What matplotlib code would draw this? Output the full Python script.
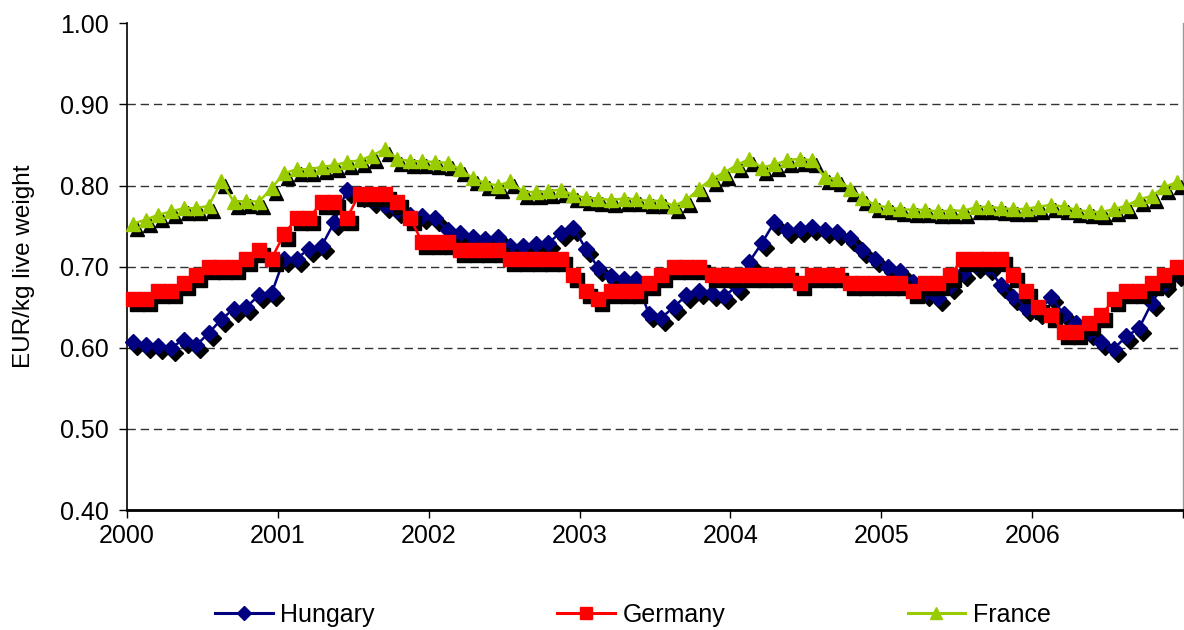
import matplotlib
matplotlib.use("Agg")
import matplotlib.pyplot as plt
import numpy as np
from matplotlib.transforms import offset_copy
from matplotlib.lines import Line2D

plt.rcParams['font.family'] = ['Liberation Sans', 'DejaVu Sans']

# monthly observations, Jan 2000 .. Dec 2006
years = [2000, 2001, 2002, 2003, 2004, 2005, 2006]
year_labels = ["2000", "2001", "2002", "2003", "2004", "2005", "2006"]

hungary = [0.607, 0.603, 0.602, 0.600, 0.610, 0.603, 0.618, 0.635, 0.648, 0.650, 0.665, 0.667,
           0.710, 0.710, 0.722, 0.726, 0.755, 0.795, 0.790, 0.782, 0.776, 0.770, 0.764, 0.762,
           0.760, 0.745, 0.741, 0.736, 0.734, 0.736, 0.725, 0.725, 0.728, 0.729, 0.742, 0.748,
           0.722, 0.698, 0.688, 0.685, 0.685, 0.642, 0.637, 0.650, 0.665, 0.670, 0.668, 0.664,
           0.675, 0.706, 0.729, 0.755, 0.745, 0.747, 0.749, 0.745, 0.743, 0.735, 0.720, 0.710,
           0.700, 0.695, 0.681, 0.667, 0.661, 0.676, 0.692, 0.702, 0.700, 0.677, 0.663, 0.649,
           0.645, 0.662, 0.642, 0.630, 0.620, 0.607, 0.599, 0.614, 0.624, 0.655, 0.679, 0.692]

germany = [0.66, 0.66, 0.67, 0.67, 0.68, 0.69, 0.70, 0.70, 0.70, 0.71, 0.72, 0.71,
           0.74, 0.76, 0.76, 0.78, 0.78, 0.76, 0.79, 0.79, 0.79, 0.78, 0.76, 0.73,
           0.73, 0.73, 0.72, 0.72, 0.72, 0.72, 0.71, 0.71, 0.71, 0.71, 0.71, 0.69,
           0.67, 0.66, 0.67, 0.67, 0.67, 0.68, 0.69, 0.70, 0.70, 0.70, 0.69, 0.69,
           0.69, 0.69, 0.69, 0.69, 0.69, 0.68, 0.69, 0.69, 0.69, 0.68, 0.68, 0.68,
           0.68, 0.68, 0.67, 0.68, 0.68, 0.69, 0.71, 0.71, 0.71, 0.71, 0.69, 0.67,
           0.65, 0.64, 0.62, 0.62, 0.63, 0.64, 0.66, 0.67, 0.67, 0.68, 0.69, 0.70]

france = [0.753, 0.758, 0.764, 0.768, 0.772, 0.772, 0.775, 0.805, 0.780, 0.781, 0.780, 0.797,
          0.815, 0.820, 0.820, 0.823, 0.825, 0.829, 0.831, 0.837, 0.845, 0.833, 0.830, 0.830,
          0.829, 0.828, 0.820, 0.809, 0.803, 0.800, 0.805, 0.792, 0.792, 0.793, 0.795, 0.788,
          0.785, 0.784, 0.782, 0.784, 0.783, 0.781, 0.781, 0.775, 0.782, 0.796, 0.808, 0.816,
          0.825, 0.833, 0.822, 0.826, 0.831, 0.833, 0.831, 0.810, 0.808, 0.796, 0.785, 0.776,
          0.773, 0.771, 0.770, 0.770, 0.768, 0.769, 0.769, 0.773, 0.774, 0.772, 0.771, 0.771,
          0.774, 0.776, 0.774, 0.770, 0.768, 0.767, 0.771, 0.775, 0.783, 0.787, 0.798, 0.804]

series_names = ["Hungary", "Germany", "France"]
series_values = [hungary, germany, france]
colors = ["#000080", "#FF0000", "#99CC00"]
markers = ["D", "s", "^"]
msizes = [8.0, 10.5, 9.5]

months = np.arange(len(hungary))
x = years[0] + (months + 0.5) / 12.0

W, H = 1184, 630
fig = plt.figure(figsize=(W / 100, H / 100), dpi=100)
ax = fig.add_axes([127 / W, (H - 510) / H, (1183 - 127) / W, (510 - 23.3) / H])

shadow_tr = offset_copy(ax.transData, fig=fig, x=4, y=-5, units='dots')

handles = []
for k, (name, vals, c, m, ms) in enumerate(zip(series_names, series_values, colors, markers, msizes)):
    ax.plot(x, vals, linestyle='none', marker=m, markersize=ms, color='black',
            markeredgecolor='black', transform=shadow_tr, zorder=3 + 2 * k, clip_on=False)
    ax.plot(x, vals, linestyle='-', linewidth=1.8, marker=m, markersize=ms, color=c,
            markeredgecolor=c, zorder=4 + 2 * k, clip_on=False)
    handles.append(Line2D([0], [0], color=c, linewidth=2.2, marker=m,
                          markersize=ms * 0.85, markeredgecolor=c, label=name))

for gy in [0.5, 0.6, 0.7, 0.8, 0.9]:
    ax.axhline(gy, color='#333333', linewidth=1.0, dashes=(6, 3.5), zorder=1)

ax.set_xlim(2000, 2007)
ax.set_ylim(0.40, 1.00)
ax.set_xticks(years + [2007])
ax.set_xticklabels(year_labels + [""])
yt = [0.4, 0.5, 0.6, 0.7, 0.8, 0.9, 1.0]
ax.set_yticks(yt)
ax.set_yticklabels(["%.2f" % v for v in yt])
ax.tick_params(axis='both', direction='out', length=6, width=1.0, labelsize=18, colors='black')
ax.tick_params(axis='x', pad=4)
ax.tick_params(axis='y', pad=7)

ax.spines['top'].set_visible(False)
ax.spines['right'].set_color('#999999')
ax.spines['right'].set_linewidth(1.0)
ax.spines['left'].set_linewidth(1.2)
ax.spines['bottom'].set_linewidth(2.0)

ax.set_ylabel("EUR/kg live weight", fontsize=17.5)
ax.yaxis.set_label_coords(-0.087, 0.5)

fig.legend(handles=handles, loc='center', bbox_to_anchor=(633 / W, 1 - 615 / H), ncol=3,
           frameon=False, fontsize=18, handlelength=2.3, handletextpad=0.3,
           columnspacing=7.3)

fig.savefig("out.png", dpi=100)
